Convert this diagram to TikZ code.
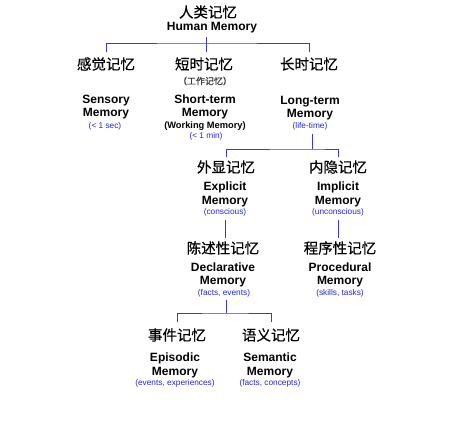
\documentclass[tikz,border=0pt]{standalone}
\usepackage{fontspec}
\setmainfont{Liberation Sans}
\newfontfamily\cjk[FakeBold=0.6]{Noto Sans CJK SC}
\definecolor{linkblue}{RGB}{60,60,190}
\definecolor{noteblue}{RGB}{40,40,200}
\definecolor{subgray}{RGB}{60,60,60}
\tikzset{
  cn/.style={font=\cjk\fontsize{14.5}{16}\selectfont, text height=11.5pt, text depth=2.5pt, inner sep=0pt},
  sub/.style={font=\cjk\fontsize{9}{10}\selectfont, text=subgray, inner sep=0pt},
  en/.style={font=\bfseries\fontsize{12}{13.5}\selectfont, align=center, inner sep=0pt},
  note/.style={font=\fontsize{8.3}{9}\selectfont, text=noteblue, text height=6pt, text depth=2pt, inner sep=0pt},
  link/.style={draw=linkblue, line width=0.9pt}
}

\begin{document}
\begin{tikzpicture}[x=1pt,y=-1pt]
\useasboundingbox (0,0) rectangle (454,420);
% root
\node[cn] (hm) at (208,13) {人类记忆};
\node[en] (hmen) at (212,27.5) {Human Memory};
% first level
\node[cn] (sen) at (106,65) {感觉记忆};
\node[en] (senen) at (106,107) {Sensory\\Memory};
\node[note] (sennote) at (105,126) {(< 1 sec)};
\node[cn] (st) at (204,65) {短时记忆};
\node[sub] (stsub) at (205,81) {（工作记忆）};
\node[en] (sten) at (205,107) {Short-term\\Memory};
\node[en, font=\bfseries\fontsize{9.3}{11}\selectfont] (stwm) at (205,126) {(Working Memory)};
\node[note] (stnote) at (206,136) {(< 1 min)};
\node[cn] (lt) at (309,65) {长时记忆};
\node[en] (lten) at (310,108) {Long-term\\Memory};
\node[note] (ltnote) at (310,126) {(life-time)};
% long-term memory
\node[cn] (ex) at (226,168) {外显记忆};
\node[en] (exen) at (225,194.5) {Explicit\\Memory};
\node[note] (exnote) at (225,212) {(conscious)};
\node[cn] (im) at (338,168) {内隐记忆};
\node[en] (imen) at (338,194.5) {Implicit\\Memory};
\node[note] (imnote) at (338,212) {(unconscious)};
\node[cn] (dec) at (223,249) {陈述性记忆};
\node[en] (decen) at (223,275) {Declarative\\Memory};
\node[note] (decnote) at (224,293) {(facts, events)};
\node[cn] (pro) at (340,249) {程序性记忆};
\node[en] (proen) at (340,275) {Procedural\\Memory};
\node[note] (pronote) at (340,293) {(skills, tasks)};
% explicit memory
\node[cn] (epi) at (177,336) {事件记忆};
\node[en] (epien) at (175,365.5) {Episodic\\Memory};
\node[note] (epinote) at (175,383) {(events, experiences)};
\node[cn] (sem) at (271,336) {语义记忆};
\node[en] (semen) at (270,365.5) {Semantic\\Memory};
\node[note] (semnote) at (270,383) {(facts, concepts)};

% tree lines
\coordinate (j1) at (206,43);
\coordinate (j2) at (312,149);
\coordinate (j3) at (226,313);
\draw[link, shorten <=4pt] (j1 |- hmen.south) -- (j1);
\draw[link, shorten <=6pt, shorten >=6pt] (sen.north) |- (j1) -| (lt.north);
\draw[link, shorten >=6pt] (j1) -- (j1 |- st.north);
\draw[link, shorten <=4pt] (j2 |- ltnote.south) -- (j2);
\draw[link, shorten <=3.5pt, shorten >=3.5pt] (ex.north) |- (j2) -| (im.north);
\draw[link, shorten <=4pt, shorten >=4pt] (exnote.south) -- (exnote.south |- dec.north);
\draw[link, shorten <=4pt, shorten >=4pt] (imnote.south) -- (imnote.south |- pro.north);
\draw[link, shorten <=3pt] (j3 |- decnote.south) -- (j3);
\draw[link, shorten <=7pt, shorten >=7pt] (epi.north) |- (j3) -| (sem.north);
\end{tikzpicture}
\end{document}
